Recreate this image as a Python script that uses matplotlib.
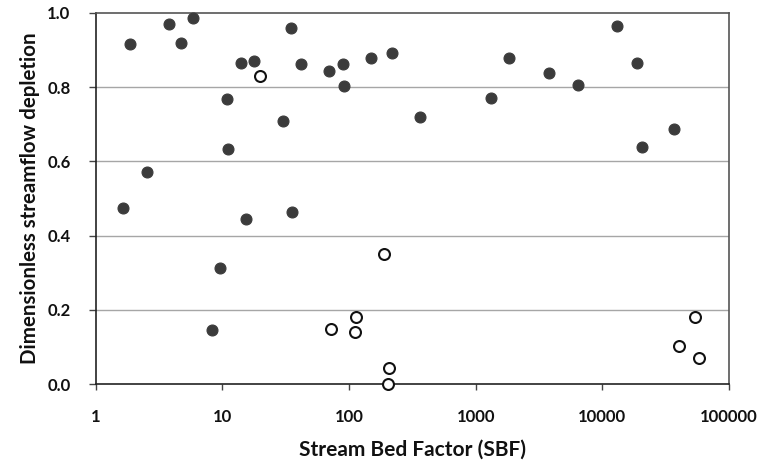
import matplotlib
matplotlib.use("Agg")
import matplotlib.pyplot as plt
from matplotlib.ticker import FixedLocator, FixedFormatter, NullLocator

plt.rcParams['font.family'] = ['Lato', 'DejaVu Sans']

# Filled markers
sbf_filled = [1.64, 1.87, 2.55, 3.83, 4.75, 5.92, 10.85, 11.05, 14.0, 15.3, 17.7,
              30.2, 34.9, 35.6, 41.6, 70.0, 90.3, 92.0, 149, 9.6, 8.36,
              220, 366, 1331, 1836, 3818, 6470, 13000, 18670, 20450, 36800]
dep_filled = [0.475, 0.916, 0.571, 0.970, 0.919, 0.986, 0.768, 0.633, 0.865, 0.445, 0.871,
              0.709, 0.959, 0.464, 0.863, 0.844, 0.862, 0.802, 0.879, 0.312, 0.145,
              0.893, 0.719, 0.772, 0.880, 0.839, 0.806, 0.966, 0.864, 0.640, 0.686]

# Open markers
sbf_open = [20.0, 72.2, 113.8, 112.4, 190, 207, 204, 53600, 40550, 58300]
dep_open = [0.830, 0.149, 0.180, 0.140, 0.350, 0.043, 0.001, 0.181, 0.102, 0.071]

x_ticks = [1, 10, 100, 1000, 10000, 100000]
x_tick_labels = ['1', '10', '100', '1000', '10000', '100000']
y_ticks = [0.0, 0.2, 0.4, 0.6, 0.8, 1.0]
y_tick_labels = ['0.0', '0.2', '0.4', '0.6', '0.8', '1.0']

fig = plt.figure(figsize=(7.61, 4.69), dpi=100)
ax = fig.add_axes([0.1255, 0.1812, 0.958 - 0.1255, 0.9723 - 0.1812])

ax.set_xscale('log')
ax.set_xlim(1, 100000)
ax.set_ylim(0, 1.0)

for y in y_ticks[1:-1]:
    ax.axhline(y, color='#a6a6a6', lw=1.0, zorder=1)

ax.scatter(sbf_filled, dep_filled, s=62, c='#3b3b3b', edgecolors='#3b3b3b',
           linewidths=0.8, zorder=3, clip_on=False)
ax.scatter(sbf_open, dep_open, s=62, c='white', edgecolors='#111111',
           linewidths=1.5, zorder=3, clip_on=False)

ax.xaxis.set_major_locator(FixedLocator(x_ticks))
ax.xaxis.set_major_formatter(FixedFormatter(x_tick_labels))
ax.xaxis.set_minor_locator(NullLocator())
ax.yaxis.set_major_locator(FixedLocator(y_ticks))
ax.yaxis.set_major_formatter(FixedFormatter(y_tick_labels))

ax.tick_params(axis='x', direction='out', length=4.3, width=1, pad=14,
               labelsize=12, color='#444444')
ax.tick_params(axis='y', direction='out', length=5, width=1, pad=13,
               labelsize=12, color='#444444')
for lab in ax.get_xticklabels() + ax.get_yticklabels():
    lab.set_fontweight('bold')
    lab.set_color('#111111')

ax.spines['left'].set_color('#222222')
ax.spines['bottom'].set_color('#222222')
ax.spines['top'].set_color('#555555')
ax.spines['right'].set_color('#555555')
for s in ax.spines.values():
    s.set_linewidth(1.2)

ax.set_xlabel('Stream Bed Factor (SBF)', fontsize=15, fontweight='bold',
              color='#111111', labelpad=10)
ax.set_ylabel('Dimensionless streamflow depletion', fontsize=14.8,
              fontweight='bold', color='#111111', labelpad=5)

fig.savefig('out.png', dpi=100)
